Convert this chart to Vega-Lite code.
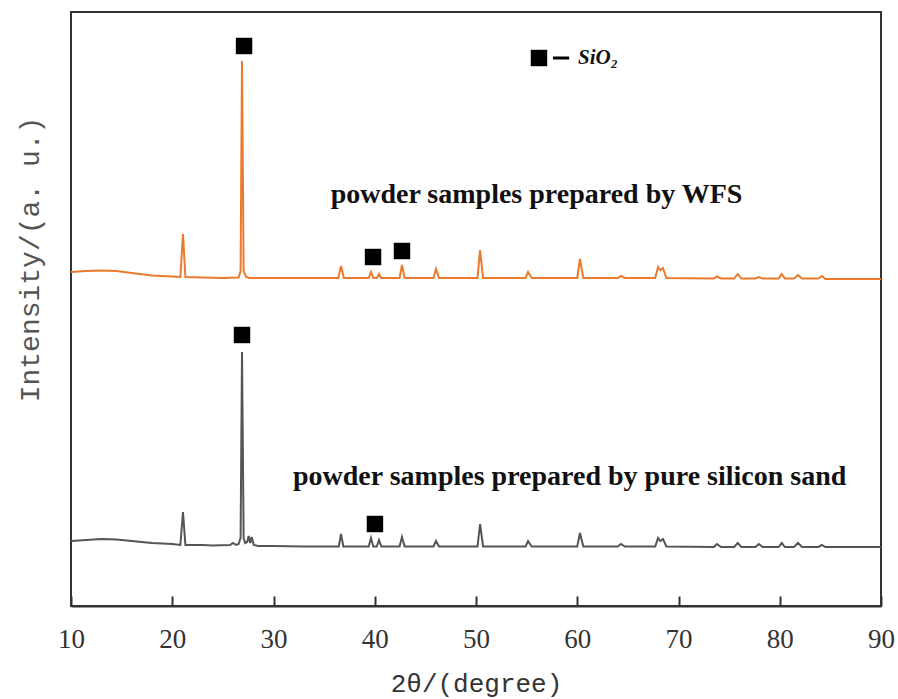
{
  "$schema": "https://vega.github.io/schema/vega-lite/v6.json",
  "width": 810,
  "height": 594,
  "autosize": "none",
  "padding": {"left": 71, "top": 12, "right": 17, "bottom": 93},
  "background": "white",
  "config": {
    "view": {"stroke": "#333", "strokeWidth": 2},
    "axis": {"grid": false}
  },
  "datasets": {
    "curves": [
      {"sample":"WFS","angle":10,"intensity":334},{"sample":"WFS","angle":11.5,"intensity":335},{"sample":"WFS","angle":13,"intensity":335.5},{"sample":"WFS","angle":14.5,"intensity":335},{"sample":"WFS","angle":16,"intensity":333},{"sample":"WFS","angle":18,"intensity":330.5},{"sample":"WFS","angle":20,"intensity":329.5},{"sample":"WFS","angle":20.8,"intensity":329},{"sample":"WFS","angle":21.06,"intensity":372},{"sample":"WFS","angle":21.3,"intensity":329},{"sample":"WFS","angle":23,"intensity":328.5},{"sample":"WFS","angle":25,"intensity":328},{"sample":"WFS","angle":26.55,"intensity":328.5},{"sample":"WFS","angle":26.75,"intensity":335},{"sample":"WFS","angle":26.89,"intensity":545},{"sample":"WFS","angle":27.05,"intensity":335},{"sample":"WFS","angle":27.3,"intensity":329},{"sample":"WFS","angle":27.6,"intensity":328},{"sample":"WFS","angle":30,"intensity":328},{"sample":"WFS","angle":33,"intensity":328},{"sample":"WFS","angle":36.4,"intensity":328},{"sample":"WFS","angle":36.67,"intensity":340},{"sample":"WFS","angle":36.95,"intensity":328},{"sample":"WFS","angle":39.4,"intensity":328},{"sample":"WFS","angle":39.63,"intensity":334},{"sample":"WFS","angle":39.85,"intensity":328},{"sample":"WFS","angle":40.2,"intensity":328},{"sample":"WFS","angle":40.42,"intensity":332},{"sample":"WFS","angle":40.65,"intensity":328},{"sample":"WFS","angle":42.45,"intensity":328},{"sample":"WFS","angle":42.69,"intensity":341},{"sample":"WFS","angle":42.95,"intensity":328},{"sample":"WFS","angle":45.8,"intensity":328},{"sample":"WFS","angle":46.05,"intensity":337},{"sample":"WFS","angle":46.35,"intensity":328},{"sample":"WFS","angle":50.15,"intensity":328},{"sample":"WFS","angle":50.4,"intensity":356},{"sample":"WFS","angle":50.7,"intensity":328},{"sample":"WFS","angle":54.9,"intensity":328},{"sample":"WFS","angle":55.14,"intensity":334},{"sample":"WFS","angle":55.5,"intensity":328},{"sample":"WFS","angle":60.0,"intensity":328},{"sample":"WFS","angle":60.27,"intensity":347},{"sample":"WFS","angle":60.6,"intensity":328},{"sample":"WFS","angle":64.0,"intensity":328},{"sample":"WFS","angle":64.32,"intensity":330},{"sample":"WFS","angle":64.7,"intensity":328},{"sample":"WFS","angle":67.7,"intensity":328},{"sample":"WFS","angle":67.98,"intensity":339},{"sample":"WFS","angle":68.2,"intensity":336},{"sample":"WFS","angle":68.47,"intensity":338},{"sample":"WFS","angle":68.8,"intensity":328},{"sample":"WFS","angle":73.5,"intensity":327.5},{"sample":"WFS","angle":73.8,"intensity":329.5},{"sample":"WFS","angle":74.2,"intensity":327.5},{"sample":"WFS","angle":75.5,"intensity":327.5},{"sample":"WFS","angle":75.85,"intensity":332},{"sample":"WFS","angle":76.2,"intensity":327.5},{"sample":"WFS","angle":77.6,"intensity":327.5},{"sample":"WFS","angle":77.93,"intensity":329},{"sample":"WFS","angle":78.3,"intensity":327.5},{"sample":"WFS","angle":79.9,"intensity":327.5},{"sample":"WFS","angle":80.2,"intensity":332},{"sample":"WFS","angle":80.5,"intensity":327.5},{"sample":"WFS","angle":81.4,"intensity":327.5},{"sample":"WFS","angle":81.8,"intensity":331},{"sample":"WFS","angle":82.2,"intensity":327.5},{"sample":"WFS","angle":83.8,"intensity":327.5},{"sample":"WFS","angle":84.17,"intensity":330},{"sample":"WFS","angle":84.5,"intensity":327},{"sample":"WFS","angle":90,"intensity":327},
      {"sample":"sand","angle":10,"intensity":65},{"sample":"sand","angle":11.5,"intensity":66},{"sample":"sand","angle":13,"intensity":67},{"sample":"sand","angle":14.5,"intensity":66.5},{"sample":"sand","angle":16,"intensity":65},{"sample":"sand","angle":18,"intensity":63},{"sample":"sand","angle":20,"intensity":62},{"sample":"sand","angle":20.8,"intensity":61},{"sample":"sand","angle":21.06,"intensity":94},{"sample":"sand","angle":21.3,"intensity":61},{"sample":"sand","angle":23,"intensity":61},{"sample":"sand","angle":24,"intensity":60.5},{"sample":"sand","angle":25.7,"intensity":61},{"sample":"sand","angle":26,"intensity":63},{"sample":"sand","angle":26.3,"intensity":61},{"sample":"sand","angle":26.55,"intensity":62},{"sample":"sand","angle":26.75,"intensity":68},{"sample":"sand","angle":26.89,"intensity":254},{"sample":"sand","angle":27.05,"intensity":68},{"sample":"sand","angle":27.2,"intensity":63},{"sample":"sand","angle":27.4,"intensity":64},{"sample":"sand","angle":27.55,"intensity":70},{"sample":"sand","angle":27.7,"intensity":63},{"sample":"sand","angle":27.85,"intensity":69},{"sample":"sand","angle":28.05,"intensity":61},{"sample":"sand","angle":28.5,"intensity":60},{"sample":"sand","angle":30,"intensity":60},{"sample":"sand","angle":33,"intensity":59.5},{"sample":"sand","angle":36.45,"intensity":59.5},{"sample":"sand","angle":36.67,"intensity":72},{"sample":"sand","angle":36.9,"intensity":59.5},{"sample":"sand","angle":39.4,"intensity":59.5},{"sample":"sand","angle":39.63,"intensity":68},{"sample":"sand","angle":39.85,"intensity":59.5},{"sample":"sand","angle":40.2,"intensity":59.5},{"sample":"sand","angle":40.42,"intensity":66},{"sample":"sand","angle":40.65,"intensity":59.5},{"sample":"sand","angle":42.45,"intensity":59.5},{"sample":"sand","angle":42.69,"intensity":69},{"sample":"sand","angle":42.95,"intensity":59.5},{"sample":"sand","angle":45.8,"intensity":59.5},{"sample":"sand","angle":46.05,"intensity":65},{"sample":"sand","angle":46.35,"intensity":59.5},{"sample":"sand","angle":50.15,"intensity":59.5},{"sample":"sand","angle":50.4,"intensity":82},{"sample":"sand","angle":50.7,"intensity":59.5},{"sample":"sand","angle":54.9,"intensity":59.5},{"sample":"sand","angle":55.14,"intensity":65},{"sample":"sand","angle":55.5,"intensity":59.5},{"sample":"sand","angle":60.0,"intensity":59.5},{"sample":"sand","angle":60.27,"intensity":73},{"sample":"sand","angle":60.6,"intensity":59.5},{"sample":"sand","angle":64.0,"intensity":59.5},{"sample":"sand","angle":64.32,"intensity":62},{"sample":"sand","angle":64.7,"intensity":59.5},{"sample":"sand","angle":67.7,"intensity":59.5},{"sample":"sand","angle":67.98,"intensity":68},{"sample":"sand","angle":68.2,"intensity":65},{"sample":"sand","angle":68.47,"intensity":67},{"sample":"sand","angle":68.8,"intensity":59.5},{"sample":"sand","angle":73.5,"intensity":59},{"sample":"sand","angle":73.8,"intensity":62},{"sample":"sand","angle":74.2,"intensity":59},{"sample":"sand","angle":75.5,"intensity":59},{"sample":"sand","angle":75.85,"intensity":63},{"sample":"sand","angle":76.2,"intensity":59},{"sample":"sand","angle":77.6,"intensity":59},{"sample":"sand","angle":77.93,"intensity":62},{"sample":"sand","angle":78.3,"intensity":59},{"sample":"sand","angle":79.9,"intensity":59},{"sample":"sand","angle":80.2,"intensity":63},{"sample":"sand","angle":80.5,"intensity":59},{"sample":"sand","angle":81.4,"intensity":59},{"sample":"sand","angle":81.8,"intensity":63},{"sample":"sand","angle":82.2,"intensity":59},{"sample":"sand","angle":83.8,"intensity":59},{"sample":"sand","angle":84.17,"intensity":61},{"sample":"sand","angle":84.5,"intensity":59},{"sample":"sand","angle":90,"intensity":59}
    ],
    "markers": [
      {"angle":27.09,"intensity":560},{"angle":39.83,"intensity":349},{"angle":42.69,"intensity":355},{"angle":26.89,"intensity":271},{"angle":40.02,"intensity":82},{"angle":56.22,"intensity":548}
    ],
    "dash": [{"angle":57.6,"angle2":59.2,"intensity":548}],
    "labels": [
      {"angle":55.98,"intensity":403,"text":"powder samples prepared by WFS"},
      {"angle":59.25,"intensity":121,"text":"powder samples prepared by pure silicon sand"}
    ],
    "legendText": [{"angle":60.07,"intensity":548,"text":"SiO₂"}]
  },
  "layer": [
    {
      "data": {"name": "curves"},
      "mark": {"type": "line", "strokeWidth": 2, "interpolate": "linear"},
      "encoding": {
        "x": {"field": "angle", "type": "quantitative",
          "scale": {"domain": [10, 90], "nice": false, "zero": false},
          "axis": {"values": [10,20,30,40,50,60,70,80,90], "title": "2θ/(degree)",
            "tickSize": -10, "tickWidth": 2, "tickColor": "#333", "domainColor": "#333", "domainWidth": 2,
            "labelFont": "Liberation Serif", "labelFontSize": 27, "labelColor": "#333", "labelPadding": 30,
            "labelFlush": false, "labelOverlap": false,
            "titleFont": "Liberation Mono", "titleFontSize": 26, "titleFontWeight": "normal", "titleColor": "#333", "titlePadding": 18}
        },
        "y": {"field": "intensity", "type": "quantitative",
          "scale": {"domain": [0, 594], "nice": false, "zero": false},
          "axis": {"title": "Intensity/(a. u.)", "labels": false, "ticks": false, "domain": false,
            "titleFont": "Liberation Mono", "titleFontSize": 28, "titleFontWeight": "normal", "titleColor": "#555",
            "titleAngle": -90, "titleBaseline": "middle", "titleAlign": "center", "titleX": -41, "titleY": 247}
        },
        "color": {"field": "sample", "type": "nominal",
          "scale": {"domain": ["WFS", "sand"], "range": ["#EC7A2C", "#555555"]}, "legend": null}
      }
    },
    {
      "data": {"name": "markers"},
      "mark": {"type": "point", "shape": "square", "filled": true, "color": "#000", "size": 270, "opacity": 1},
      "encoding": {
        "x": {"field": "angle", "type": "quantitative"},
        "y": {"field": "intensity", "type": "quantitative"}
      }
    },
    {
      "data": {"name": "dash"},
      "mark": {"type": "rule", "strokeWidth": 3, "color": "#000"},
      "encoding": {
        "x": {"field": "angle", "type": "quantitative"},
        "x2": {"field": "angle2"},
        "y": {"field": "intensity", "type": "quantitative"}
      }
    },
    {
      "data": {"name": "labels"},
      "mark": {"type": "text", "font": "Liberation Serif", "fontSize": 28, "fontWeight": "bold", "color": "#111", "align": "center", "baseline": "alphabetic"},
      "encoding": {
        "x": {"field": "angle", "type": "quantitative"},
        "y": {"field": "intensity", "type": "quantitative"},
        "text": {"field": "text"}
      }
    },
    {
      "data": {"name": "legendText"},
      "mark": {"type": "text", "font": "Liberation Serif", "fontSize": 21, "fontWeight": "bold", "fontStyle": "italic", "color": "#111", "align": "left", "baseline": "middle"},
      "encoding": {
        "x": {"field": "angle", "type": "quantitative"},
        "y": {"field": "intensity", "type": "quantitative"},
        "text": {"field": "text"}
      }
    }
  ]
}
